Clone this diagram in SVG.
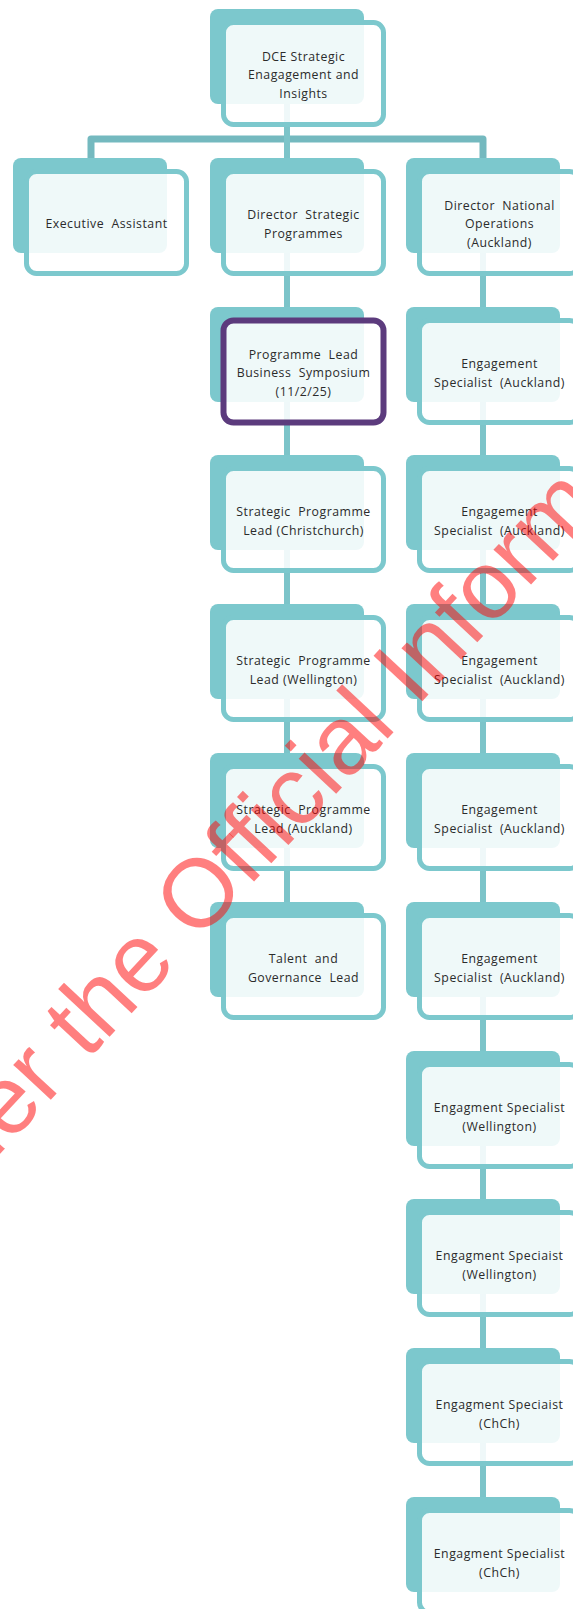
<svg xmlns="http://www.w3.org/2000/svg" width="573" height="1609" viewBox="0 0 573 1609" xml:space="preserve">
<style>
.back{fill:#7cc8cd}
.front{fill:#ffffff;fill-opacity:0.88;stroke:#7cc8cd;stroke-width:5}
.front.sel{stroke:#5c3b7d;stroke-width:6}
.lbl{font-family:"Open Sans","Noto Sans","DejaVu Sans",sans-serif;font-size:12.3px;letter-spacing:0.5px;fill:#2b2b2b;text-anchor:middle;white-space:pre}
.conn{stroke:#7cc4c9;stroke-width:6;fill:none}
.bus{stroke:#74b9bf;stroke-width:7;fill:none;stroke-linejoin:round}
.wm{font-family:"Liberation Sans",Arial,sans-serif;font-size:97px;fill:#ff0000;fill-opacity:0.5}
</style>
<g id="connectors">
<path class="bus" d="M91 158 V139 H483 V158"/>
<path class="conn" d="M287 100 V160"/>
<path class="conn" d="M287 248 V312 M287 397 V460 M287 546 V609 M287 694 V758 M287 843 V907"/>
<path class="conn" d="M483 248 V312 M483 397 V460 M483 546 V609 M483 694 V758 M483 843 V907 M483 992 V1056 M483 1141 V1204 M483 1289 V1353 M483 1438 V1502"/>
</g>
<g id="n-dce" transform="translate(210,9)"><rect class="back" width="154" height="95" rx="8"/><rect class="front" x="13.5" y="13.5" width="160" height="102" rx="10"/><text class="lbl" x="93.5" y="52.1">DCE Strategic</text><text class="lbl" x="93.5" y="70.4">Enagagement and</text><text class="lbl" x="93.5" y="88.7">Insights</text></g>
<g id="n-ea" transform="translate(13,158)"><rect class="back" width="154" height="95" rx="8"/><rect class="front" x="13.5" y="13.5" width="160" height="102" rx="10"/><text class="lbl" x="93.5" y="70.4">Executive  Assistant</text></g>
<g id="n-dsp" transform="translate(210,158)"><rect class="back" width="154" height="95" rx="8"/><rect class="front" x="13.5" y="13.5" width="160" height="102" rx="10"/><text class="lbl" x="93.5" y="61.3">Director  Strategic</text><text class="lbl" x="93.5" y="79.6">Programmes</text></g>
<g id="n-dno" transform="translate(406,158)"><rect class="back" width="154" height="95" rx="8"/><rect class="front" x="13.5" y="13.5" width="160" height="102" rx="10"/><text class="lbl" x="93.5" y="52.1">Director  National</text><text class="lbl" x="93.5" y="70.4">Operations</text><text class="lbl" x="93.5" y="88.7">(Auckland)</text></g>
<g id="n-pl" transform="translate(210,307)"><rect class="back" width="154" height="95" rx="8"/><rect class="front sel" x="13.5" y="13.5" width="160" height="102" rx="10"/><text class="lbl" x="93.5" y="52.1">Programme  Lead</text><text class="lbl" x="93.5" y="70.4">Business  Symposium</text><text class="lbl" x="93.5" y="88.7">(11/2/25)</text></g>
<g id="n-spc" transform="translate(210,455)"><rect class="back" width="154" height="95" rx="8"/><rect class="front" x="13.5" y="13.5" width="160" height="102" rx="10"/><text class="lbl" x="93.5" y="61.3">Strategic  Programme</text><text class="lbl" x="93.5" y="79.6">Lead (Christchurch)</text></g>
<g id="n-spw" transform="translate(210,604)"><rect class="back" width="154" height="95" rx="8"/><rect class="front" x="13.5" y="13.5" width="160" height="102" rx="10"/><text class="lbl" x="93.5" y="61.3">Strategic  Programme</text><text class="lbl" x="93.5" y="79.6">Lead (Wellington)</text></g>
<g id="n-spa" transform="translate(210,753)"><rect class="back" width="154" height="95" rx="8"/><rect class="front" x="13.5" y="13.5" width="160" height="102" rx="10"/><text class="lbl" x="93.5" y="61.3">Strategic  Programme</text><text class="lbl" x="93.5" y="79.6">Lead (Auckland)</text></g>
<g id="n-tgl" transform="translate(210,902)"><rect class="back" width="154" height="95" rx="8"/><rect class="front" x="13.5" y="13.5" width="160" height="102" rx="10"/><text class="lbl" x="93.5" y="61.3">Talent  and</text><text class="lbl" x="93.5" y="79.6">Governance  Lead</text></g>
<g id="n-es1" transform="translate(406,307)"><rect class="back" width="154" height="95" rx="8"/><rect class="front" x="13.5" y="13.5" width="160" height="102" rx="10"/><text class="lbl" x="93.5" y="61.3">Engagement</text><text class="lbl" x="93.5" y="79.6">Specialist  (Auckland)</text></g>
<g id="n-es2" transform="translate(406,455)"><rect class="back" width="154" height="95" rx="8"/><rect class="front" x="13.5" y="13.5" width="160" height="102" rx="10"/><text class="lbl" x="93.5" y="61.3">Engagement</text><text class="lbl" x="93.5" y="79.6">Specialist  (Auckland)</text></g>
<g id="n-es3" transform="translate(406,604)"><rect class="back" width="154" height="95" rx="8"/><rect class="front" x="13.5" y="13.5" width="160" height="102" rx="10"/><text class="lbl" x="93.5" y="61.3">Engagement</text><text class="lbl" x="93.5" y="79.6">Specialist  (Auckland)</text></g>
<g id="n-es4" transform="translate(406,753)"><rect class="back" width="154" height="95" rx="8"/><rect class="front" x="13.5" y="13.5" width="160" height="102" rx="10"/><text class="lbl" x="93.5" y="61.3">Engagement</text><text class="lbl" x="93.5" y="79.6">Specialist  (Auckland)</text></g>
<g id="n-es5" transform="translate(406,902)"><rect class="back" width="154" height="95" rx="8"/><rect class="front" x="13.5" y="13.5" width="160" height="102" rx="10"/><text class="lbl" x="93.5" y="61.3">Engagement</text><text class="lbl" x="93.5" y="79.6">Specialist  (Auckland)</text></g>
<g id="n-ew1" transform="translate(406,1051)"><rect class="back" width="154" height="95" rx="8"/><rect class="front" x="13.5" y="13.5" width="160" height="102" rx="10"/><text class="lbl" x="93.5" y="61.3">Engagment Specialist</text><text class="lbl" x="93.5" y="79.6">(Wellington)</text></g>
<g id="n-ew2" transform="translate(406,1199)"><rect class="back" width="154" height="95" rx="8"/><rect class="front" x="13.5" y="13.5" width="160" height="102" rx="10"/><text class="lbl" x="93.5" y="61.3">Engagment Speciaist</text><text class="lbl" x="93.5" y="79.6">(Wellington)</text></g>
<g id="n-ec1" transform="translate(406,1348)"><rect class="back" width="154" height="95" rx="8"/><rect class="front" x="13.5" y="13.5" width="160" height="102" rx="10"/><text class="lbl" x="93.5" y="61.3">Engagment Speciaist</text><text class="lbl" x="93.5" y="79.6">(ChCh)</text></g>
<g id="n-ec2" transform="translate(406,1497)"><rect class="back" width="154" height="95" rx="8"/><rect class="front" x="13.5" y="13.5" width="160" height="102" rx="10"/><text class="lbl" x="93.5" y="61.3">Engagment Specialist</text><text class="lbl" x="93.5" y="79.6">(ChCh)</text></g>
<text class="wm" transform="translate(197,892) rotate(-47)" x="-911" y="34.7">Released under the Official Information Act 1982</text>
</svg>
